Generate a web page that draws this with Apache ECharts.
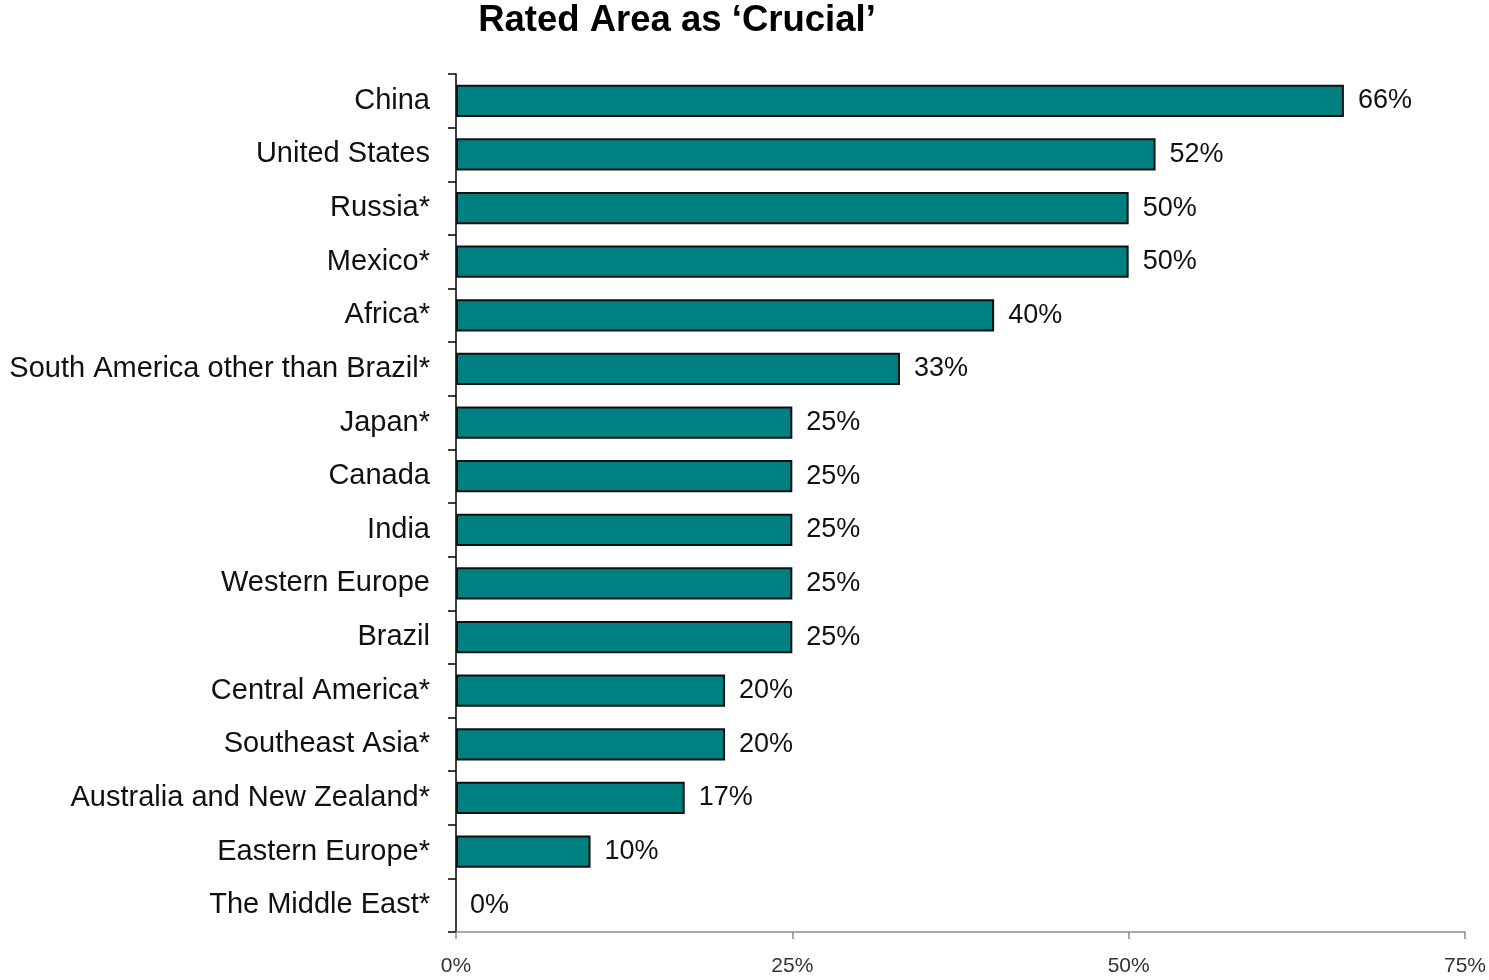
<!DOCTYPE html>
<html>
<head>
<meta charset="utf-8">
<style>
  html, body { margin: 0; padding: 0; background: #fff; }
  #chart { width: 1489px; height: 980px; }
</style>
<script src="https://cdn.jsdelivr.net/npm/echarts@6/dist/echarts.min.js"></script>
</head>
<body>
<div id="chart"></div>
<script>
// Regions, listed top to bottom
const regions = [
  'China',
  'United States',
  'Russia*',
  'Mexico*',
  'Africa*',
  'South America other than Brazil*',
  'Japan*',
  'Canada',
  'India',
  'Western Europe',
  'Brazil',
  'Central America*',
  'Southeast Asia*',
  'Australia and New Zealand*',
  'Eastern Europe*',
  'The Middle East*'
];

// Share of respondents rating the region as crucial (%)
const crucialShare = [66, 52, 50, 50, 40, 33, 25, 25, 25, 25, 25, 20, 20, 17, 10, 0];

// Value axis ticks (%)
const axisTicks = [0, 25, 50, 75];

const chart = echarts.init(document.getElementById('chart'));

chart.setOption({
  animation: false,
  backgroundColor: '#ffffff',
  title: {
    text: 'Rated Area as \u2018Crucial\u2019',
    left: 672,
    top: -3,
    textAlign: 'center',
    textStyle: {
      fontFamily: 'Liberation Sans, Arial, sans-serif',
      fontWeight: 'bold',
      fontSize: 36.5,
      color: '#000'
    }
  },
  grid: { left: 456, right: 22, top: 74, bottom: 48, containLabel: false },
  xAxis: {
    type: 'value',
    min: axisTicks[0],
    max: axisTicks[axisTicks.length - 1],
    interval: axisTicks[1] - axisTicks[0],
    axisLine: { show: true, lineStyle: { color: '#8c8c8c', width: 1.5 } },
    axisTick: { show: true, length: 7, lineStyle: { color: '#8c8c8c', width: 1.5 } },
    splitLine: { show: false },
    axisLabel: {
      formatter: '{value}%',
      fontFamily: 'Liberation Sans, Arial, sans-serif',
      fontSize: 21,
      color: '#333',
      margin: 24
    }
  },
  yAxis: {
    type: 'category',
    inverse: true,
    data: regions,
    axisLine: { show: true, lineStyle: { color: '#000', width: 1.5 } },
    axisTick: { show: true, length: 8, lineStyle: { color: '#000', width: 1.5 } },
    axisLabel: {
      fontFamily: 'Liberation Sans, Arial, sans-serif',
      fontSize: 29,
      color: '#111',
      margin: 26,
      padding: [8, 0, 0, 0]
    }
  },
  series: [{
    type: 'bar',
    // a zero share gets no outline, so nothing is drawn for it
    data: crucialShare.map(v => v === 0
      ? { value: v, itemStyle: { borderWidth: 0 } }
      : v),
    barWidth: '60%',
    itemStyle: { color: '#008080', borderColor: '#111', borderWidth: 2 },
    label: {
      show: true,
      position: 'right',
      distance: 14,
      formatter: '{c}%',
      fontFamily: 'Liberation Sans, Arial, sans-serif',
      fontSize: 27,
      color: '#111',
      padding: [8, 0, 0, 0]
    }
  }]
});
</script>
</body>
</html>
